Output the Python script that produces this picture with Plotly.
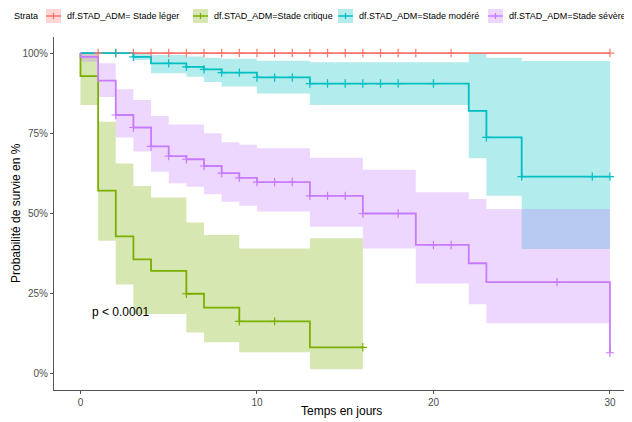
import numpy as np
import plotly.graph_objects as go

# ---------------- data ----------------
strata_labels = ["df.STAD_ADM= Stade léger", "df.STAD_ADM=Stade critique",
                 "df.STAD_ADM=Stade modéré", "df.STAD_ADM=Stade sévère"]
strata_colors = ["#F8766D", "#7CAE00", "#00BFC4", "#C77CFF"]

x_ticks = [0, 10, 20, 30]
y_ticks = [0, 25, 50, 75, 100]
y_tick_labels = ["0%", "25%", "50%", "75%", "100%"]

# Stade léger
leger_time = [0, 30]
leger_surv = [100, 100]
leger_upper = [100, 100]
leger_lower = [100, 100]
leger_cens = [1, 2, 3, 4, 5, 6, 7, 8, 9, 10, 11, 12, 13, 14, 15, 16, 17, 18, 19, 21, 30]

# Stade critique
critique_time = [0, 0, 1, 2, 3, 4, 6, 7, 9, 13, 16]
critique_surv = [100, 92.8, 57.1, 42.9, 35.7, 32.1, 25.0, 20.7, 16.4, 8.3, 8.3]
critique_upper = [100, 100, 78.6, 65.6, 58.6, 55.0, 47.2, 43.3, 39.1, 42.3, 42.3]
critique_lower = [100, 83.8, 41.5, 27.9, 18.7, 18.7, 12.9, 9.9, 6.8, 1.5, 1.5]
critique_cens = [6, 9, 11, 16]

# Stade modéré
modere_time = [0, 3, 4, 6, 7, 8, 10, 13, 22, 23, 25, 30]
modere_surv = [100, 98.8, 96.8, 95.7, 94.9, 93.9, 92.4, 90.5, 82.0, 73.7, 61.5, 61.5]
modere_upper = [100, 100, 99.4, 98.9, 98.5, 98.2, 97.6, 97.1, 100, 98.5, 97.5, 97.5]
modere_lower = [100, 97.8, 93.7, 92.6, 91.0, 89.6, 87.4, 83.8, 67.2, 55.5, 38.9, 38.9]
modere_cens = [2, 3, 5, 6, 7, 8, 9, 10, 11, 12, 13, 14, 15, 16, 17, 18, 20, 23, 25, 29, 30]

# Stade sévère
severe_time = [0, 0, 1, 2, 3, 4, 5, 6, 7, 8, 9, 10, 13, 16, 19, 22, 23, 30]
severe_surv = [100, 98.8, 91.4, 80.7, 76.8, 70.9, 67.9, 66.9, 64.8, 62.6, 61.1, 59.8,
               55.5, 50.0, 40.2, 34.5, 28.6, 6.6]
severe_upper = [100, 100, 96.8, 88.7, 85.4, 80.4, 77.7, 77.7, 75.0, 72.2, 71.4, 70.3,
                67.4, 63.6, 56.6, 54.5, 51.4, 51.4]
severe_lower = [100, 97.3, 86.3, 73.7, 69.3, 63.0, 59.4, 58.3, 56.0, 53.7, 52.4, 50.6,
                45.9, 39.1, 28.2, 21.7, 15.8, 15.8]
severe_cens = [2, 3, 4, 5, 6, 7, 8, 9, 10, 11, 12, 13, 14, 15, 16, 18, 20, 21, 27, 30]

pval_text = "p < 0.0001"
pval_pos = (2.26, 19.4)

groups = [
    (leger_time, leger_surv, leger_upper, leger_lower, leger_cens),
    (critique_time, critique_surv, critique_upper, critique_lower, critique_cens),
    (modere_time, modere_surv, modere_upper, modere_lower, modere_cens),
    (severe_time, severe_surv, severe_upper, severe_lower, severe_cens),
]

# ---------------- figure ----------------
# the page body adds an 8px offset; work in window pixels and subtract it
OFF = 8
W, H = 632 - OFF, 422 - OFF
PLOT_L, PLOT_R, PLOT_T, PLOT_B = 54, 632, 37, 390   # plot panel in window pixels
ML, MR, MT, MB = PLOT_L - OFF, 632 - PLOT_R, PLOT_T - OFF, 422 - PLOT_B
FONT = "Liberation Sans, Arial, sans-serif"


def rgba(hexc, a):
    h = hexc.lstrip("#")
    r, g, b = int(h[0:2], 16), int(h[2:4], 16), int(h[4:6], 16)
    return f"rgba({r},{g},{b},{a})"


def step_value(times, vals, t):
    idx = np.searchsorted(np.asarray(times, float), t, side="right") - 1
    return vals[max(idx, 0)]


fig = go.Figure()

# confidence bands (in strata order so later ones are drawn on top)
for (t, s, up, lo, c), col in zip(groups, strata_colors):
    fig.add_trace(go.Scatter(x=t, y=up, mode="lines", line=dict(width=0, shape="hv", color=col),
                             showlegend=False, hoverinfo="skip"))
    fig.add_trace(go.Scatter(x=t, y=lo, mode="lines", line=dict(width=0, shape="hv", color=col),
                             fill="tonexty", fillcolor=rgba(col, 0.3),
                             showlegend=False, hoverinfo="skip"))

# survival curves
for (t, s, up, lo, c), col in zip(groups, strata_colors):
    fig.add_trace(go.Scatter(x=t, y=s, mode="lines", line=dict(width=1.8, shape="hv", color=col),
                             showlegend=False))

# censor marks
for (t, s, up, lo, c), col in zip(groups, strata_colors):
    cy = [step_value(t, s, v) for v in c]
    fig.add_trace(go.Scatter(x=c, y=cy, mode="markers",
                             marker=dict(symbol="cross-thin", size=6, line=dict(width=1.2, color=col),
                                         color=col),
                             showlegend=False))

axis_col = "#4D4D4D"
fig.update_layout(
    width=W, height=H,
    margin=dict(l=ML, r=MR, t=MT, b=MB, autoexpand=False),
    paper_bgcolor="white", plot_bgcolor="white",
    font=dict(family=FONT, size=10, color="black"),
    showlegend=False,
    xaxis=dict(range=[-1.5, 31.25], tickvals=x_ticks, ticktext=[str(v) for v in x_ticks],
               showgrid=False, zeroline=False, showline=True, linecolor="#555555", linewidth=1,
               ticks="outside", ticklen=3, tickcolor="#555555", tickwidth=1,
               tickfont=dict(size=10, color=axis_col, family=FONT)),
    yaxis=dict(range=[-5, 105], tickvals=y_ticks, ticktext=y_tick_labels,
               showgrid=False, zeroline=False, showline=True, linecolor="#555555", linewidth=1,
               ticks="outside", ticklen=3, tickcolor="#555555", tickwidth=1,
               tickfont=dict(size=10, color=axis_col, family=FONT)),
)

pw = W - ML - MR
ph = H - MT - MB


def px2paper_x(p):
    """window pixel x -> paper fraction"""
    return (p - OFF - ML) / pw


def px2paper_y(q):
    """window pixel y -> paper fraction"""
    return (H - MB - (q - OFF)) / ph


# axis titles
fig.add_annotation(x=px2paper_x(341), y=px2paper_y(411), xref="paper", yref="paper",
                   text="Temps en jours", showarrow=False, xanchor="center", yanchor="middle",
                   font=dict(size=12, color="black", family=FONT))
fig.add_annotation(x=px2paper_x(16), y=px2paper_y(213), xref="paper", yref="paper",
                   text="Probabilité de survie en %", showarrow=False, textangle=-90,
                   xanchor="center", yanchor="middle",
                   font=dict(size=12, color="black", family=FONT))

# p-value
fig.add_annotation(x=pval_pos[0], y=pval_pos[1], xref="x", yref="y", text=pval_text,
                   showarrow=False, font=dict(size=12, color="black", family=FONT),
                   xanchor="center", yanchor="middle")

# ---------------- manual legend (top) ----------------
leg_y = 16
fig.add_annotation(x=px2paper_x(12), y=px2paper_y(leg_y), xref="paper", yref="paper",
                   text="Strata", showarrow=False, xanchor="left", yanchor="middle",
                   font=dict(size=9, color="black", family=FONT))
key_x = [46, 193, 338, 488]
for kx, lab, col in zip(key_x, strata_labels, strata_colors):
    x0, x1 = px2paper_x(kx), px2paper_x(kx + 15)
    y0, y1 = px2paper_y(leg_y + 7), px2paper_y(leg_y - 7)
    fig.add_shape(type="rect", xref="paper", yref="paper", x0=x0, x1=x1, y0=y0, y1=y1,
                  fillcolor=rgba(col, 0.3), line=dict(width=0), layer="above")
    fig.add_shape(type="line", xref="paper", yref="paper", x0=x0, x1=x1,
                  y0=px2paper_y(leg_y), y1=px2paper_y(leg_y), line=dict(color=col, width=1.5))
    fig.add_shape(type="line", xref="paper", yref="paper", x0=px2paper_x(kx + 7.5), x1=px2paper_x(kx + 7.5),
                  y0=px2paper_y(leg_y - 3), y1=px2paper_y(leg_y + 3), line=dict(color=col, width=1.2))
    fig.add_annotation(x=px2paper_x(kx + 19), y=px2paper_y(leg_y), xref="paper", yref="paper",
                       text=lab, showarrow=False, xanchor="left", yanchor="middle",
                       font=dict(size=9, color="black", family=FONT))

fig.write_html("out.html")
